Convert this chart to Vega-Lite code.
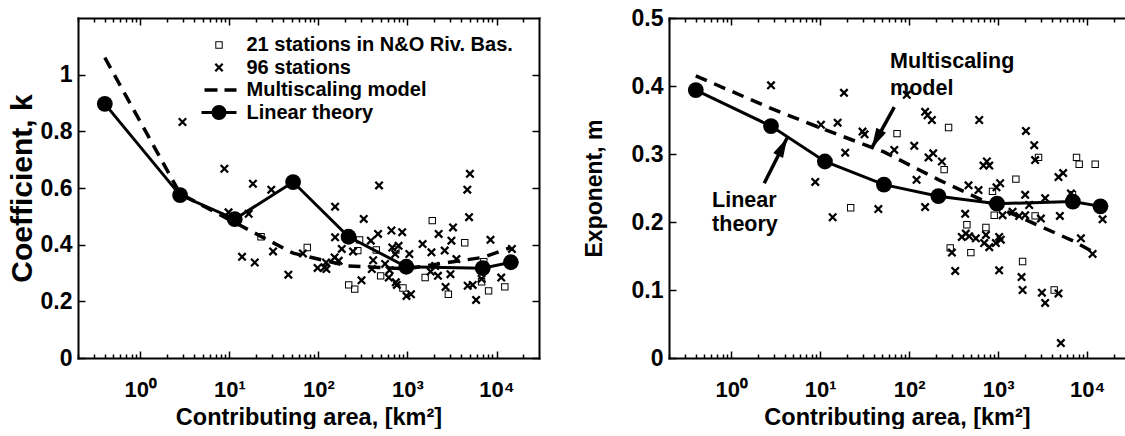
{
  "$schema": "https://vega.github.io/schema/vega-lite/v6.json",
  "background": "white",
  "padding": {"left": 7, "top": 7, "right": 0, "bottom": 0},
  "spacing": 43,
  "config": {
    "view": {"stroke": null},
    "font": "Liberation Sans",
    "axis": {
      "grid": false,
      "domainColor": "black", "domainWidth": 2, "domainCap": "square",
      "tickColor": "black", "tickWidth": 1.5,
      "labelColor": "black", "titleColor": "black",
      "labelFont": "Liberation Sans", "titleFont": "Liberation Sans",
      "labelFontWeight": "bold", "titleFontWeight": "bold",
      "labelFontSize": 23, "titleFontSize": 23.5
    },
    "legend": {
      "labelFont": "Liberation Sans", "labelFontWeight": "bold", "labelFontSize": 20, "labelColor": "black", "labelLimit": 0
    }
  },
  "resolve": {"scale": {"shape": "independent"}},
  "datasets": {
    "leftPts": [
      {"area": 2.98, "k": 0.833, "series": "96 stations"},
      {"area": 8.8, "k": 0.668, "series": "96 stations"},
      {"area": 18.4, "k": 0.615, "series": "96 stations"},
      {"area": 29.6, "k": 0.594, "series": "96 stations"},
      {"area": 9.8, "k": 0.514, "series": "96 stations"},
      {"area": 16.5, "k": 0.509, "series": "96 stations"},
      {"area": 13.9, "k": 0.357, "series": "96 stations"},
      {"area": 19.3, "k": 0.337, "series": "96 stations"},
      {"area": 31, "k": 0.376, "series": "96 stations"},
      {"area": 46, "k": 0.294, "series": "96 stations"},
      {"area": 67, "k": 0.369, "series": "96 stations"},
      {"area": 98, "k": 0.318, "series": "96 stations"},
      {"area": 117, "k": 0.32, "series": "96 stations"},
      {"area": 123, "k": 0.314, "series": "96 stations"},
      {"area": 122, "k": 0.337, "series": "96 stations"},
      {"area": 154, "k": 0.534, "series": "96 stations"},
      {"area": 154, "k": 0.426, "series": "96 stations"},
      {"area": 152, "k": 0.355, "series": "96 stations"},
      {"area": 169, "k": 0.343, "series": "96 stations"},
      {"area": 183, "k": 0.385, "series": "96 stations"},
      {"area": 245, "k": 0.376, "series": "96 stations"},
      {"area": 305, "k": 0.274, "series": "96 stations"},
      {"area": 323, "k": 0.491, "series": "96 stations"},
      {"area": 388, "k": 0.414, "series": "96 stations"},
      {"area": 412, "k": 0.345, "series": "96 stations"},
      {"area": 398, "k": 0.314, "series": "96 stations"},
      {"area": 468, "k": 0.438, "series": "96 stations"},
      {"area": 480, "k": 0.609, "series": "96 stations"},
      {"area": 561, "k": 0.332, "series": "96 stations"},
      {"area": 617, "k": 0.284, "series": "96 stations"},
      {"area": 630, "k": 0.31, "series": "96 stations"},
      {"area": 661, "k": 0.45, "series": "96 stations"},
      {"area": 676, "k": 0.39, "series": "96 stations"},
      {"area": 728, "k": 0.367, "series": "96 stations"},
      {"area": 740, "k": 0.267, "series": "96 stations"},
      {"area": 760, "k": 0.258, "series": "96 stations"},
      {"area": 795, "k": 0.396, "series": "96 stations"},
      {"area": 873, "k": 0.444, "series": "96 stations"},
      {"area": 975, "k": 0.219, "series": "96 stations"},
      {"area": 1095, "k": 0.225, "series": "96 stations"},
      {"area": 1050, "k": 0.367, "series": "96 stations"},
      {"area": 1480, "k": 0.402, "series": "96 stations"},
      {"area": 1860, "k": 0.373, "series": "96 stations"},
      {"area": 1820, "k": 0.305, "series": "96 stations"},
      {"area": 2050, "k": 0.325, "series": "96 stations"},
      {"area": 2200, "k": 0.29, "series": "96 stations"},
      {"area": 2240, "k": 0.438, "series": "96 stations"},
      {"area": 2620, "k": 0.379, "series": "96 stations"},
      {"area": 2680, "k": 0.251, "series": "96 stations"},
      {"area": 3120, "k": 0.414, "series": "96 stations"},
      {"area": 3250, "k": 0.461, "series": "96 stations"},
      {"area": 3040, "k": 0.296, "series": "96 stations"},
      {"area": 3550, "k": 0.349, "series": "96 stations"},
      {"area": 4700, "k": 0.594, "series": "96 stations"},
      {"area": 5030, "k": 0.65, "series": "96 stations"},
      {"area": 4920, "k": 0.497, "series": "96 stations"},
      {"area": 4750, "k": 0.255, "series": "96 stations"},
      {"area": 5400, "k": 0.258, "series": "96 stations"},
      {"area": 5900, "k": 0.205, "series": "96 stations"},
      {"area": 6800, "k": 0.279, "series": "96 stations"},
      {"area": 8560, "k": 0.417, "series": "96 stations"},
      {"area": 11300, "k": 0.284, "series": "96 stations"},
      {"area": 14900, "k": 0.385, "series": "96 stations"},
      {"area": 22.7, "k": 0.428, "series": "21 stations in N&O Riv. Bas."},
      {"area": 75, "k": 0.39, "series": "21 stations in N&O Riv. Bas."},
      {"area": 219, "k": 0.258, "series": "21 stations in N&O Riv. Bas."},
      {"area": 256, "k": 0.243, "series": "21 stations in N&O Riv. Bas."},
      {"area": 290, "k": 0.417, "series": "21 stations in N&O Riv. Bas."},
      {"area": 277, "k": 0.379, "series": "21 stations in N&O Riv. Bas."},
      {"area": 447, "k": 0.381, "series": "21 stations in N&O Riv. Bas."},
      {"area": 500, "k": 0.29, "series": "21 stations in N&O Riv. Bas."},
      {"area": 741, "k": 0.381, "series": "21 stations in N&O Riv. Bas."},
      {"area": 890, "k": 0.247, "series": "21 stations in N&O Riv. Bas."},
      {"area": 1580, "k": 0.284, "series": "21 stations in N&O Riv. Bas."},
      {"area": 1900, "k": 0.485, "series": "21 stations in N&O Riv. Bas."},
      {"area": 2880, "k": 0.225, "series": "21 stations in N&O Riv. Bas."},
      {"area": 4400, "k": 0.407, "series": "21 stations in N&O Riv. Bas."},
      {"area": 6800, "k": 0.269, "series": "21 stations in N&O Riv. Bas."},
      {"area": 7200, "k": 0.34, "series": "21 stations in N&O Riv. Bas."},
      {"area": 8150, "k": 0.237, "series": "21 stations in N&O Riv. Bas."},
      {"area": 12400, "k": 0.251, "series": "21 stations in N&O Riv. Bas."}
    ],
    "leftMulti": [
      {"area": 0.4, "k": 1.06}, {"area": 2.8, "k": 0.58}, {"area": 11.2, "k": 0.48},
      {"area": 52, "k": 0.37}, {"area": 215, "k": 0.325}, {"area": 970, "k": 0.315},
      {"area": 7000, "k": 0.355}, {"area": 14500, "k": 0.39}
    ],
    "leftLin": [
      {"area": 0.4, "k": 0.897}, {"area": 2.8, "k": 0.575}, {"area": 11.5, "k": 0.49},
      {"area": 52, "k": 0.621}, {"area": 218, "k": 0.428}, {"area": 970, "k": 0.322},
      {"area": 7000, "k": 0.317}, {"area": 14500, "k": 0.338}
    ],
    "rightPts": [
      {"area": 2.8, "m": 0.401, "series": "96 stations"},
      {"area": 18.5, "m": 0.39, "series": "96 stations"},
      {"area": 94, "m": 0.387, "series": "96 stations"},
      {"area": 10.2, "m": 0.343, "series": "96 stations"},
      {"area": 15.7, "m": 0.346, "series": "96 stations"},
      {"area": 29.9, "m": 0.333, "series": "96 stations"},
      {"area": 31.5, "m": 0.329, "series": "96 stations"},
      {"area": 19.1, "m": 0.302, "series": "96 stations"},
      {"area": 8.8, "m": 0.259, "series": "96 stations"},
      {"area": 13.8, "m": 0.207, "series": "96 stations"},
      {"area": 45, "m": 0.219, "series": "96 stations"},
      {"area": 68, "m": 0.306, "series": "96 stations"},
      {"area": 114, "m": 0.312, "series": "96 stations"},
      {"area": 121, "m": 0.262, "series": "96 stations"},
      {"area": 151, "m": 0.362, "series": "96 stations"},
      {"area": 161, "m": 0.357, "series": "96 stations"},
      {"area": 180, "m": 0.35, "series": "96 stations"},
      {"area": 151, "m": 0.222, "series": "96 stations"},
      {"area": 165, "m": 0.295, "series": "96 stations"},
      {"area": 186, "m": 0.301, "series": "96 stations"},
      {"area": 233, "m": 0.289, "series": "96 stations"},
      {"area": 612, "m": 0.35, "series": "96 stations"},
      {"area": 464, "m": 0.254, "series": "96 stations"},
      {"area": 601, "m": 0.247, "series": "96 stations"},
      {"area": 684, "m": 0.283, "series": "96 stations"},
      {"area": 746, "m": 0.289, "series": "96 stations"},
      {"area": 794, "m": 0.283, "series": "96 stations"},
      {"area": 426, "m": 0.212, "series": "96 stations"},
      {"area": 390, "m": 0.178, "series": "96 stations"},
      {"area": 433, "m": 0.183, "series": "96 stations"},
      {"area": 472, "m": 0.179, "series": "96 stations"},
      {"area": 561, "m": 0.176, "series": "96 stations"},
      {"area": 302, "m": 0.155, "series": "96 stations"},
      {"area": 329, "m": 0.128, "series": "96 stations"},
      {"area": 696, "m": 0.169, "series": "96 stations"},
      {"area": 794, "m": 0.163, "series": "96 stations"},
      {"area": 728, "m": 0.181, "series": "96 stations"},
      {"area": 957, "m": 0.251, "series": "96 stations"},
      {"area": 1052, "m": 0.257, "series": "96 stations"},
      {"area": 942, "m": 0.169, "series": "96 stations"},
      {"area": 1025, "m": 0.178, "series": "96 stations"},
      {"area": 1070, "m": 0.174, "series": "96 stations"},
      {"area": 1120, "m": 0.21, "series": "96 stations"},
      {"area": 1025, "m": 0.129, "series": "96 stations"},
      {"area": 1450, "m": 0.215, "series": "96 stations"},
      {"area": 1720, "m": 0.209, "series": "96 stations"},
      {"area": 2010, "m": 0.21, "series": "96 stations"},
      {"area": 2010, "m": 0.24, "series": "96 stations"},
      {"area": 2230, "m": 0.225, "series": "96 stations"},
      {"area": 2050, "m": 0.334, "series": "96 stations"},
      {"area": 2540, "m": 0.313, "series": "96 stations"},
      {"area": 2600, "m": 0.291, "series": "96 stations"},
      {"area": 3020, "m": 0.205, "series": "96 stations"},
      {"area": 3370, "m": 0.235, "series": "96 stations"},
      {"area": 1830, "m": 0.119, "series": "96 stations"},
      {"area": 1880, "m": 0.1, "series": "96 stations"},
      {"area": 3100, "m": 0.096, "series": "96 stations"},
      {"area": 3370, "m": 0.081, "series": "96 stations"},
      {"area": 4760, "m": 0.095, "series": "96 stations"},
      {"area": 5060, "m": 0.022, "series": "96 stations"},
      {"area": 4760, "m": 0.266, "series": "96 stations"},
      {"area": 5370, "m": 0.272, "series": "96 stations"},
      {"area": 4930, "m": 0.209, "series": "96 stations"},
      {"area": 6560, "m": 0.242, "series": "96 stations"},
      {"area": 8500, "m": 0.176, "series": "96 stations"},
      {"area": 11500, "m": 0.153, "series": "96 stations"},
      {"area": 14900, "m": 0.204, "series": "96 stations"},
      {"area": 22, "m": 0.221, "series": "21 stations in N&O Riv. Bas."},
      {"area": 73, "m": 0.33, "series": "21 stations in N&O Riv. Bas."},
      {"area": 277, "m": 0.339, "series": "21 stations in N&O Riv. Bas."},
      {"area": 247, "m": 0.277, "series": "21 stations in N&O Riv. Bas."},
      {"area": 289, "m": 0.162, "series": "21 stations in N&O Riv. Bas."},
      {"area": 445, "m": 0.196, "series": "21 stations in N&O Riv. Bas."},
      {"area": 493, "m": 0.155, "series": "21 stations in N&O Riv. Bas."},
      {"area": 728, "m": 0.192, "series": "21 stations in N&O Riv. Bas."},
      {"area": 863, "m": 0.245, "series": "21 stations in N&O Riv. Bas."},
      {"area": 902, "m": 0.21, "series": "21 stations in N&O Riv. Bas."},
      {"area": 1580, "m": 0.263, "series": "21 stations in N&O Riv. Bas."},
      {"area": 1880, "m": 0.142, "series": "21 stations in N&O Riv. Bas."},
      {"area": 2600, "m": 0.209, "series": "21 stations in N&O Riv. Bas."},
      {"area": 2840, "m": 0.295, "series": "21 stations in N&O Riv. Bas."},
      {"area": 4260, "m": 0.1, "series": "21 stations in N&O Riv. Bas."},
      {"area": 6840, "m": 0.24, "series": "21 stations in N&O Riv. Bas."},
      {"area": 7590, "m": 0.295, "series": "21 stations in N&O Riv. Bas."},
      {"area": 8130, "m": 0.285, "series": "21 stations in N&O Riv. Bas."},
      {"area": 12300, "m": 0.285, "series": "21 stations in N&O Riv. Bas."}
    ],
    "rightMulti": [
      {"area": 0.4, "m": 0.415}, {"area": 2.8, "m": 0.367}, {"area": 11.2, "m": 0.336},
      {"area": 52, "m": 0.303}, {"area": 215, "m": 0.262}, {"area": 970, "m": 0.222},
      {"area": 7000, "m": 0.172}, {"area": 12000, "m": 0.155}
    ],
    "rightLin": [
      {"area": 0.4, "m": 0.394}, {"area": 2.8, "m": 0.341}, {"area": 11.3, "m": 0.289},
      {"area": 52, "m": 0.255}, {"area": 213, "m": 0.238}, {"area": 970, "m": 0.227},
      {"area": 6900, "m": 0.23}, {"area": 14100, "m": 0.223}
    ],
    "rightText": [
      {"area": 61, "m": 0.426, "text": "Multiscaling"},
      {"area": 61, "m": 0.387, "text": "model"},
      {"area": 0.61, "m": 0.222, "text": "Linear"},
      {"area": 0.61, "m": 0.187, "text": "theory"}
    ],
    "rightArrows": [
      {"area": 68, "m": 0.369, "area2": 38, "m2": 0.309},
      {"area": 2.35, "m": 0.257, "area2": 4.26, "m2": 0.324}
    ]
  },
  "hconcat": [
    {
      "width": 461,
      "height": 340,
      "resolve": {"axis": {"x": "independent", "y": "independent"}},
      "layer": [
        {
          "data": {"name": "leftPts"},
          "mark": {"type": "point", "filled": true, "color": "black", "opacity": 1, "size": 400, "strokeWidth": 0},
          "encoding": {
            "x": {"field": "area", "type": "quantitative", "scale": {"type": "log", "domain": [0.2, 30000]},
              "axis": {"orient": "bottom", "values": [1, 10, 100, 1000, 10000],
                "labelExpr": "datum.value == 1 ? '10⁰' : datum.value == 10 ? '10¹' : datum.value == 100 ? '10²' : datum.value == 1000 ? '10³' : '10⁴'",
                "tickSize": -7, "labelPadding": 28, "labelFlush": false, "labelOverlap": false, "labelFontSize": 22,
                "title": "Contributing area, [km²]", "titlePadding": 5}},
            "y": {"field": "k", "type": "quantitative", "scale": {"domain": [0, 1.2]},
              "axis": {"orient": "left", "values": [0, 0.2, 0.4, 0.6, 0.8, 1], "format": "~g",
                "tickSize": -7, "labelPadding": 13, "title": "Coefficient, k", "titleFontSize": 30, "titlePadding": 3}},
            "shape": {"field": "series", "type": "nominal",
              "scale": {
                "domain": ["21 stations in N&O Riv. Bas.", "96 stations", "Multiscaling model", "Linear theory"],
                "range": [
                  "M-0.37,-0.37H0.37V0.37H-0.37Z M-0.27,-0.27V0.27H0.27V-0.27Z",
                  "M-0.45,-0.29L-0.29,-0.45L0.45,0.29L0.29,0.45Z M0.45,-0.29L-0.29,0.45L-0.45,0.29L0.29,-0.45Z",
                  "M-1.45,-0.18H-0.15V0.18H-1.45Z M0.55,-0.18H1.75V0.18H0.55Z",
                  "M-1.75,-0.15H-0.74V0.15H-1.75Z M0.74,-0.15H1.75V0.15H0.74Z M0.75,0A0.75,0.75 0 1,1 -0.75,0A0.75,0.75 0 1,1 0.75,0Z"
                ]},
              "legend": {"title": null, "orient": "none", "legendX": 131, "legendY": 17, "padding": 0,
                "symbolSize": 400, "symbolFillColor": "black", "symbolStrokeWidth": 0, "symbolOpacity": 1,
                "labelOffset": 17.5, "rowPadding": 2.5, "labelFontSize": 20, "labelLimit": 0}}
          }
        },
        {
          "data": {"name": "leftMulti"},
          "mark": {"type": "line", "color": "black", "strokeWidth": 3.5, "strokeDash": [12, 8], "strokeCap": "butt"},
          "encoding": {
            "x": {"field": "area", "type": "quantitative", "scale": {"type": "log", "domain": [0.2, 30000]},
              "axis": {"orient": "bottom", "values": [0.2,0.3,0.4,0.5,0.6,0.7,0.8,0.9,2,3,4,5,6,7,8,9,20,30,40,50,60,70,80,90,200,300,400,500,600,700,800,900,2000,3000,4000,5000,6000,7000,8000,9000,20000],
                "labels": false, "domain": false, "tickSize": -4, "title": null}},
            "y": {"field": "k", "type": "quantitative", "scale": {"domain": [0, 1.2]},
              "axis": {"orient": "right", "values": [0, 0.2, 0.4, 0.6, 0.8, 1], "labels": false, "tickSize": -7, "title": null}}
          }
        },
        {
          "data": {"name": "leftLin"},
          "mark": {"type": "line", "color": "black", "strokeWidth": 3},
          "encoding": {
            "x": {"field": "area", "type": "quantitative", "scale": {"type": "log", "domain": [0.2, 30000]},
              "axis": {"orient": "top", "values": [1, 10, 100, 1000, 10000], "labels": false, "tickSize": -7, "title": null}},
            "y": {"field": "k", "type": "quantitative", "scale": {"domain": [0, 1.2]}, "axis": null}
          }
        },
        {
          "data": {"name": "leftLin"},
          "mark": {"type": "circle", "color": "black", "opacity": 1, "size": 250},
          "encoding": {
            "x": {"field": "area", "type": "quantitative", "scale": {"type": "log", "domain": [0.2, 30000]},
              "axis": {"orient": "top", "values": [0.2,0.3,0.4,0.5,0.6,0.7,0.8,0.9,2,3,4,5,6,7,8,9,20,30,40,50,60,70,80,90,200,300,400,500,600,700,800,900,2000,3000,4000,5000,6000,7000,8000,9000,20000],
                "labels": false, "domain": false, "tickSize": -4, "title": null}},
            "y": {"field": "k", "type": "quantitative", "scale": {"domain": [0, 1.2]}, "axis": null}
          }
        }
      ]
    },
    {
      "width": 456,
      "height": 340,
      "resolve": {"axis": {"x": "independent", "y": "independent"}},
      "layer": [
        {
          "data": {"name": "rightPts"},
          "mark": {"type": "point", "filled": true, "color": "black", "opacity": 1, "size": 400, "strokeWidth": 0},
          "encoding": {
            "x": {"field": "area", "type": "quantitative", "scale": {"type": "log", "domain": [0.2, 26600]},
              "axis": {"orient": "bottom", "values": [1, 10, 100, 1000, 10000],
                "labelExpr": "datum.value == 1 ? '10⁰' : datum.value == 10 ? '10¹' : datum.value == 100 ? '10²' : datum.value == 1000 ? '10³' : '10⁴'",
                "tickSize": -7, "labelPadding": 28, "labelFlush": false, "labelOverlap": false, "labelFontSize": 22,
                "title": "Contributing area, [km²]", "titlePadding": 5}},
            "y": {"field": "m", "type": "quantitative", "scale": {"domain": [0, 0.5]},
              "axis": {"orient": "left", "values": [0, 0.1, 0.2, 0.3, 0.4, 0.5], "format": "~g",
                "tickSize": -7, "labelPadding": 13, "labelFlush": false, "title": "Exponent, m", "titleFontSize": 23, "titlePadding": 25}},
            "shape": {"field": "series", "type": "nominal",
              "scale": {
                "domain": ["21 stations in N&O Riv. Bas.", "96 stations"],
                "range": [
                  "M-0.37,-0.37H0.37V0.37H-0.37Z M-0.27,-0.27V0.27H0.27V-0.27Z",
                  "M-0.45,-0.29L-0.29,-0.45L0.45,0.29L0.29,0.45Z M0.45,-0.29L-0.29,0.45L-0.45,0.29L0.29,-0.45Z"
                ]},
              "legend": null}
          }
        },
        {
          "data": {"name": "rightMulti"},
          "mark": {"type": "line", "color": "black", "strokeWidth": 3.5, "strokeDash": [12, 8], "strokeCap": "butt"},
          "encoding": {
            "x": {"field": "area", "type": "quantitative", "scale": {"type": "log", "domain": [0.2, 26600]},
              "axis": {"orient": "bottom", "values": [0.2,0.3,0.4,0.5,0.6,0.7,0.8,0.9,2,3,4,5,6,7,8,9,20,30,40,50,60,70,80,90,200,300,400,500,600,700,800,900,2000,3000,4000,5000,6000,7000,8000,9000,20000],
                "labels": false, "domain": false, "tickSize": -4, "title": null}},
            "y": {"field": "m", "type": "quantitative", "scale": {"domain": [0, 0.5]}, "axis": null}
          }
        },
        {
          "data": {"name": "rightLin"},
          "mark": {"type": "line", "color": "black", "strokeWidth": 3},
          "encoding": {
            "x": {"field": "area", "type": "quantitative", "scale": {"type": "log", "domain": [0.2, 26600]},
              "axis": {"orient": "top", "values": [1, 10, 100, 1000, 10000], "labels": false, "tickSize": -7, "title": null}},
            "y": {"field": "m", "type": "quantitative", "scale": {"domain": [0, 0.5]}, "axis": null}
          }
        },
        {
          "data": {"name": "rightLin"},
          "mark": {"type": "circle", "color": "black", "opacity": 1, "size": 250},
          "encoding": {
            "x": {"field": "area", "type": "quantitative", "scale": {"type": "log", "domain": [0.2, 26600]},
              "axis": {"orient": "top", "values": [0.2,0.3,0.4,0.5,0.6,0.7,0.8,0.9,2,3,4,5,6,7,8,9,20,30,40,50,60,70,80,90,200,300,400,500,600,700,800,900,2000,3000,4000,5000,6000,7000,8000,9000,20000],
                "labels": false, "domain": false, "tickSize": -4, "title": null}},
            "y": {"field": "m", "type": "quantitative", "scale": {"domain": [0, 0.5]}, "axis": null}
          }
        },
        {
          "data": {"name": "rightText"},
          "mark": {"type": "text", "align": "left", "baseline": "alphabetic", "fontSize": 21.5, "fontWeight": "bold", "font": "Liberation Sans", "color": "black"},
          "encoding": {
            "x": {"field": "area", "type": "quantitative", "scale": {"type": "log", "domain": [0.2, 26600]}, "axis": null},
            "y": {"field": "m", "type": "quantitative", "scale": {"domain": [0, 0.5]}, "axis": null},
            "text": {"field": "text"}
          }
        },
        {
          "data": {"name": "rightArrows"},
          "mark": {"type": "rule", "color": "black", "strokeWidth": 3.5},
          "encoding": {
            "x": {"field": "area", "type": "quantitative", "scale": {"type": "log", "domain": [0.2, 26600]}, "axis": null},
            "x2": {"field": "area2"},
            "y": {"field": "m", "type": "quantitative", "scale": {"domain": [0, 0.5]}, "axis": null},
            "y2": {"field": "m2"}
          }
        },
        {
          "data": {"values": [{"area": 38, "m": 0.309}]},
          "mark": {"type": "point", "shape": "M0,0L0.55,2L-0.55,2Z", "filled": true, "color": "black", "opacity": 1, "size": 400, "angle": 208, "strokeWidth": 0},
          "encoding": {
            "x": {"field": "area", "type": "quantitative", "scale": {"type": "log", "domain": [0.2, 26600]}, "axis": null},
            "y": {"field": "m", "type": "quantitative", "scale": {"domain": [0, 0.5]}, "axis": null}
          }
        },
        {
          "data": {"values": [{"area": 4.26, "m": 0.324}]},
          "mark": {"type": "point", "shape": "M0,0L0.55,2L-0.55,2Z", "filled": true, "color": "black", "opacity": 1, "size": 400, "angle": 27, "strokeWidth": 0},
          "encoding": {
            "x": {"field": "area", "type": "quantitative", "scale": {"type": "log", "domain": [0.2, 26600]}, "axis": null},
            "y": {"field": "m", "type": "quantitative", "scale": {"domain": [0, 0.5]}, "axis": null}
          }
        }
      ]
    }
  ]
}
